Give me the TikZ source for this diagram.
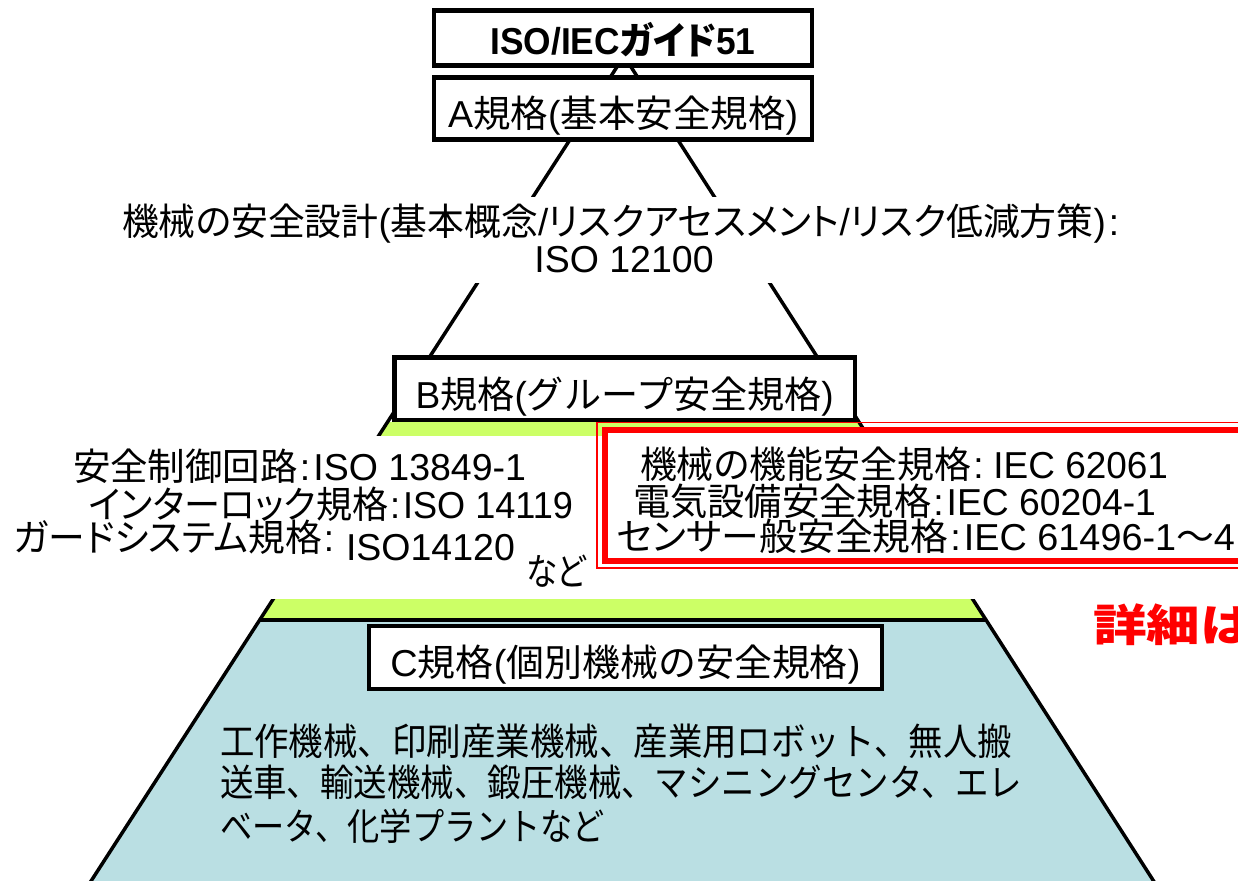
\documentclass[tikz,border=0pt]{standalone}
\usepackage{fontspec}
\usepackage{graphicx}
\setmainfont{Liberation Sans}
\newfontfamily\jpfont[RawFeature=+palt]{Noto Sans CJK JP}
\newfontfamily\jpfull{Noto Sans CJK JP}
\newcommand\jq[1]{{\jpfont #1}}
\newcommand\jw[1]{{\jpfull #1}}
\newcommand\fitw[2]{\resizebox{#1pt}{\height}{#2}}
\definecolor{limeG}{RGB}{204,255,102}
\definecolor{aquaC}{RGB}{186,223,227}
\begin{document}
\begin{tikzpicture}[x=1pt,y=-1pt,
  lvlbox/.style={draw=black,line width=4.5pt,fill=white,inner sep=0pt,outer sep=0pt,font=\fontsize{37.5}{40}\selectfont},
  pedge/.style={line width=3.5pt},
  tx/.style={inner sep=0pt,outer sep=0pt,anchor=base west,font=\fontsize{37.5}{40}\selectfont},
  txc/.style={tx,anchor=base},
]
\useasboundingbox (0,0) rectangle (1238,880);
\clip (0,0) rectangle (1238,880);
% pyramid
\coordinate (apex) at (624,56);
\coordinate (gL) at (387.5,422);
\coordinate (gR) at (859,422);
\coordinate (cL) at (259.7,620);
\coordinate (cR) at (986,620);
\coordinate (bL) at (78.8,900);
\coordinate (bR) at (1165.8,900);
\fill[aquaC] (cL) -- (cR) -- (bR) -- (bL) -- cycle;
\fill[limeG] (gL) -- (gR) -- (cR) -- (cL) -- cycle;
\draw[pedge] (apex) -- (bL);
\draw[pedge] (apex) -- (bR);
\draw[line width=4.5pt] (cL) -- (cR);
\fill[white] (0,435.5) rectangle (1238,599);
% red frame
\node[draw=red,line width=6pt,fill=white,inner sep=0pt,outer sep=0pt,minimum width=675pt,minimum height=130.5pt] (redbox) at (942.5,495.25) {};
\draw[red,line width=1.5pt] ([shift={(-8,-7.5)}]redbox.north west) rectangle ([shift={(8,7.5)}]redbox.south east);
% level boxes
\node[lvlbox,minimum width=378pt,minimum height=55pt,text height=36pt,text depth=2pt] (guide) at (623,38)
  {\fitw{265}{\bfseries ISO/IEC{\jpfont\bfseries ガイド}51}};
\node[lvlbox,minimum width=378pt,minimum height=62pt,text height=42pt,text depth=3pt] (aStd) at (623,108.5)
  {\fitw{350}{A\jw{規格}(\jw{基本安全規格})}};
\node[lvlbox,minimum width=460.5pt,minimum height=62.5pt,text height=42pt,text depth=3.5pt] (bStd) at (624.75,388.75)
  {\fitw{418}{B\jw{規格}(\jw{グループ安全規格})}};
\node[lvlbox,minimum width=513pt,minimum height=63pt,text height=41pt,text depth=4pt] (cStd) at (625.5,657.5)
  {\fitw{470}{C\jw{規格}(\jw{個別機械の安全規格})}};
% A level description
\node[fill=white,inner sep=0pt,minimum width=1010pt,minimum height=86pt] (descbg) at (621,240) {};
\node[tx] (desc1) at (122,235)
  {\fitw{997}{\jq{機械の安全設計}(\jq{基本概念}/\jq{リスクアセスメント}/\jq{リスク低減方策})\kern3pt:}};
\node[txc] (desc2) at (624,272) {ISO 12100};
% B level left texts
\node[tx] (bl1) at (73,480) {\fitw{453}{\jq{安全制御回路}\kern2pt:\kern3pt ISO 13849-1}};
\node[tx] (bl2) at (89,518) {\fitw{484}{\jq{インターロック規格}\kern2pt:\kern3pt ISO 14119}};
\node[tx] (bl3) at (14,551) {\fitw{320}{\jq{ガードシステム規格}\kern2pt:}\hspace{12pt}\raisebox{-9pt}{ISO14120}};
\node[tx] (bl4) at (526,585) {\fitw{60}{\jq{など}}};
% B level red texts
\node[tx] (br1) at (640,478) {\fitw{528}{\jq{機械の機能安全規格}\kern2pt:\kern10pt IEC 62061}};
\node[tx] (br2) at (633,515) {\fitw{523}{\jq{電気設備安全規格}\kern2pt:\kern3pt IEC 60204-1}};
\node[tx] (br3) at (617,550) {\fitw{618}{\jq{センサー般安全規格}\kern2pt:\kern3pt IEC 61496-1\jw{〜}4}};
% detail note
\node[tx,text=red,font=\fontsize{44}{48}\selectfont] (detail) at (1093,641) {\fitw{160}{\jpfont\bfseries 詳細は}};
% C level texts
\node[tx] (cl1) at (220,755) {\fitw{792}{\jw{工作機械、印刷産業機械、産業用ロボット、無人搬}}};
\node[tx] (cl2) at (220,796) {\fitw{802}{\jw{送車、輸送機械、鍛圧機械、マシニングセンタ、エレ}}};
\node[tx] (cl3) at (220,840) {\fitw{385}{\jw{ベータ、化学プラントなど}}};
\end{tikzpicture}
\end{document}
